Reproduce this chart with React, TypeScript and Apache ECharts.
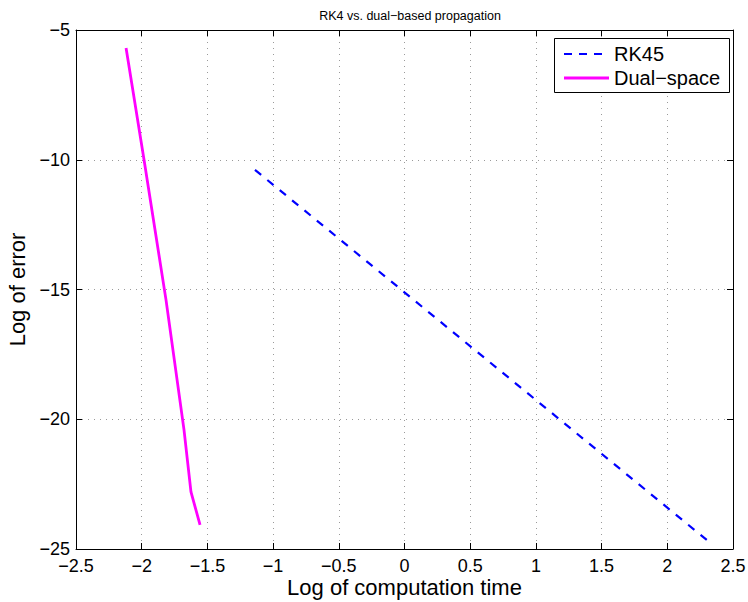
import React, { useEffect, useRef } from "react";
import * as echarts from "echarts";

const titleText = "RK4 vs. dual\u2212based propagation";
const xName = "Log of computation time";
const yName = "Log of error";
const seriesNames = ["RK45", "Dual\u2212space"];

const rkX = [-1.138, 2.312];
const rkY = [-10.39, -24.7];

const dualX = [-2.119, -1.982, -1.815, -1.678, -1.625, -1.556];
const dualY = [-5.69, -10.01, -15.4, -20.41, -22.8, -24.07];

const xMin = -2.5, xMax = 2.5, xStep = 0.5;
const yMin = -25, yMax = -5, yStep = 5;

const FONT = "'Liberation Sans', Arial, Helvetica, sans-serif";
const BLUE = "#0000ff";
const MAGENTA = "#ff00ff";

const fmt = (v: number) => String(v).replace("-", "\u2212");

export default function App() {
  const ref = useRef<HTMLDivElement>(null);
  useEffect(() => {
    if (!ref.current) return;
    const chart = echarts.init(ref.current, null, { renderer: "svg" });
    const gridLine = { show: true, lineStyle: { color: "#9a9a9a", width: 1, type: [1, 5] as any } };
    const axisLine = { show: true, onZero: false, lineStyle: { color: "#000", width: 1 } };
    const tick = { show: true, inside: true, length: 6, lineStyle: { color: "#000" } };

    const lgX = 554, lgY = 38, lgW = 175, lgH = 54;
    const rowY = [54, 78];
    const legendGraphic = [
      {
        type: "rect",
        shape: { x: lgX + 0.5, y: lgY + 0.5, width: lgW, height: lgH },
        style: { fill: "#fff", stroke: "#000", lineWidth: 1 },
        z: 100,
      },
      {
        type: "line",
        shape: { x1: 564, y1: rowY[0], x2: 609, y2: rowY[0] },
        style: { stroke: BLUE, lineWidth: 2.2, lineDash: [8, 7] },
        z: 101,
      },
      {
        type: "line",
        shape: { x1: 564, y1: rowY[1], x2: 609, y2: rowY[1] },
        style: { stroke: MAGENTA, lineWidth: 2.8 },
        z: 101,
      },
      {
        type: "text",
        x: 614,
        y: rowY[0],
        style: { text: seriesNames[0], fontSize: 20, fontFamily: FONT, fill: "#000", verticalAlign: "middle", align: "left" },
        z: 101,
      },
      {
        type: "text",
        x: 614,
        y: rowY[1],
        style: { text: seriesNames[1], fontSize: 20, fontFamily: FONT, fill: "#000", verticalAlign: "middle", align: "left" },
        z: 101,
      },
    ];

    chart.setOption({
      animation: false,
      backgroundColor: "#fff",
      textStyle: { fontFamily: FONT },
      title: {
        text: titleText,
        left: 405,
        top: 4,
        textAlign: "center",
        textStyle: { fontSize: 12.5, fontWeight: "normal", color: "#000", fontFamily: FONT },
      },
      grid: { left: 76, right: 15, top: 30, bottom: 53, containLabel: false, outerBoundsMode: "none" },
      graphic: legendGraphic,
      xAxis: [
        {
          type: "value",
          min: xMin,
          max: xMax,
          interval: xStep,
          position: "bottom",
          name: xName,
          nameLocation: "middle",
          nameGap: 27,
          nameMoveOverlap: false,
          nameTextStyle: { fontSize: 22, color: "#000", fontFamily: FONT },
          axisLine,
          axisTick: tick,
          axisLabel: { fontSize: 18, color: "#000", margin: 8, formatter: fmt, fontFamily: FONT },
          splitLine: gridLine,
        },
        {
          type: "value",
          min: xMin,
          max: xMax,
          interval: xStep,
          position: "top",
          axisLine,
          axisTick: tick,
          axisLabel: { show: false },
          splitLine: { show: false },
        },
      ],
      yAxis: [
        {
          type: "value",
          min: yMin,
          max: yMax,
          interval: yStep,
          position: "left",
          name: yName,
          nameLocation: "middle",
          nameGap: 48,
          nameMoveOverlap: false,
          nameTextStyle: { fontSize: 22, color: "#000", fontFamily: FONT },
          axisLine,
          axisTick: tick,
          axisLabel: { fontSize: 18, color: "#000", margin: 6, formatter: fmt, fontFamily: FONT },
          splitLine: gridLine,
        },
        {
          type: "value",
          min: yMin,
          max: yMax,
          interval: yStep,
          position: "right",
          axisLine,
          axisTick: tick,
          axisLabel: { show: false },
          splitLine: { show: false },
        },
      ],
      series: [
        {
          name: seriesNames[0],
          type: "line",
          symbol: "none",
          data: rkX.map((x, i) => [x, rkY[i]]),
          lineStyle: { color: BLUE, width: 2.2, type: [8, 8] as any },
          itemStyle: { color: BLUE },
        },
        {
          name: seriesNames[1],
          type: "line",
          symbol: "none",
          data: dualX.map((x, i) => [x, dualY[i]]),
          lineStyle: { color: MAGENTA, width: 2.8 },
          itemStyle: { color: MAGENTA },
        },
      ],
    });
    return () => chart.dispose();
  }, []);
  return (
    <div
      ref={ref}
      style={{ position: "fixed", left: 0, top: 0, width: 748, height: 602, background: "#fff" }}
    />
  );
}
